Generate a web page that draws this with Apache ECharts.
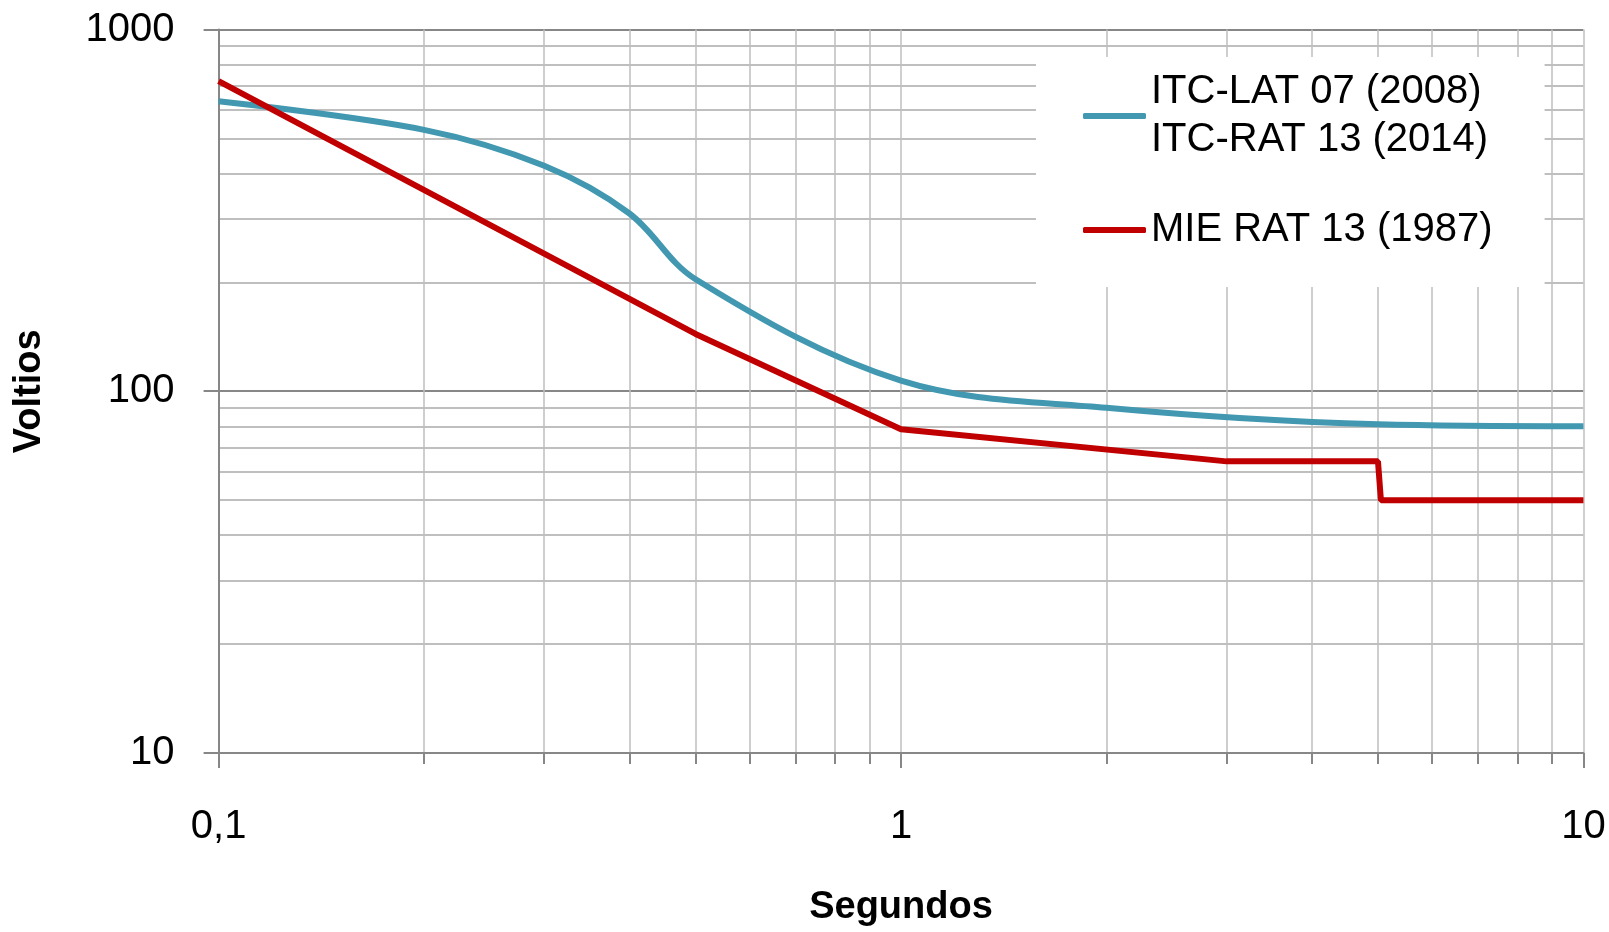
<!DOCTYPE html>
<html>
<head>
<meta charset="utf-8" />
<script src="https://cdn.jsdelivr.net/npm/echarts@6/dist/echarts.min.js"></script>
<title>Tensión admisible</title>
<style>
  html, body { margin: 0; padding: 0; background: #fff; }
  #main { width: 1609px; height: 932px; }
</style>
</head>
<body>
<div id="main"></div>
<script>
// ITC-LAT 07 (2008) / ITC-RAT 13 (2014)
var itcTimes = [0.1, 0.2, 0.3, 0.4, 0.5, 1, 2, 5, 10];
var itcVolts = [633, 528, 420, 310, 204, 107, 90, 81, 80];
// MIE RAT 13 (1987)
var mieTimes = [0.1, 0.5, 1, 3, 5, 5.05, 10];
var mieVolts = [720, 144, 78.5, 64, 64, 50, 50];

var itcName = 'ITC-LAT 07 (2008)\nITC-RAT 13 (2014)';
var mieName = 'MIE RAT 13 (1987)';

function pairs(xs, ys) {
  var out = [];
  for (var i = 0; i < xs.length; i++) out.push([xs[i], ys[i]]);
  return out;
}

var dark = '#878787', light = '#bfbfbf';
var myChart = echarts.init(document.getElementById('main'));

var option = {
  animation: false,
  textStyle: { fontFamily: 'Liberation Sans' },
  grid: { left: 218.6, right: 25.6, top: 29.5, bottom: 176 },
  legend: {
    orient: 'vertical',
    left: 1036, top: 57,
    padding: [11, 52, 33, 47],
    backgroundColor: '#fff',
    itemWidth: 63, itemHeight: 6,
    itemGap: 42,
    icon: 'roundRect',
    textStyle: { fontSize: 40, lineHeight: 48, color: '#000' },
    data: [itcName, mieName]
  },
  xAxis: {
    type: 'log', logBase: 10, min: 0.1, max: 10,
    name: 'Segundos', nameLocation: 'middle', nameGap: 136,
    nameTextStyle: { fontSize: 38, fontWeight: 'bold', color: '#000' },
    axisLine: { lineStyle: { color: dark, width: 2 } },
    axisTick: { length: 15, lineStyle: { color: dark, width: 2 } },
    minorTick: { show: true, splitNumber: 9, length: 11, lineStyle: { color: dark, width: 2 } },
    axisLabel: {
      fontSize: 40, color: '#000', margin: 54,
      formatter: function (v) { return String(v).replace('.', ','); }
    },
    splitLine: { show: true, lineStyle: { color: light, width: 1.5 } },
    minorSplitLine: { show: true, lineStyle: { color: light, width: 1.5 } }
  },
  yAxis: {
    type: 'log', logBase: 10, min: 10, max: 1000,
    name: 'Voltios', nameLocation: 'middle', nameGap: 170,
    nameTextStyle: { fontSize: 38, fontWeight: 'bold', color: '#000' },
    axisLine: { show: true, lineStyle: { color: dark, width: 2 } },
    axisTick: { show: true, length: 15, lineStyle: { color: dark, width: 2 } },
    minorTick: { show: false, splitNumber: 9 },
    axisLabel: {
      fontSize: 40, color: '#000', margin: 44,
      formatter: function (v) { return String(v); }
    },
    splitLine: { show: true, lineStyle: { color: dark, width: 2 } },
    minorSplitLine: { show: true, lineStyle: { color: light, width: 2 } }
  },
  series: [
    {
      name: itcName, type: 'line', smooth: 0.35, showSymbol: false,
      color: '#4198b0',
      lineStyle: { width: 6, color: '#4198b0' },
      data: pairs(itcTimes, itcVolts)
    },
    {
      name: mieName, type: 'line', showSymbol: false,
      color: '#c00000',
      lineStyle: { width: 6, color: '#c00000' },
      data: pairs(mieTimes, mieVolts)
    }
  ]
};
myChart.setOption(option);
</script>
</body>
</html>
